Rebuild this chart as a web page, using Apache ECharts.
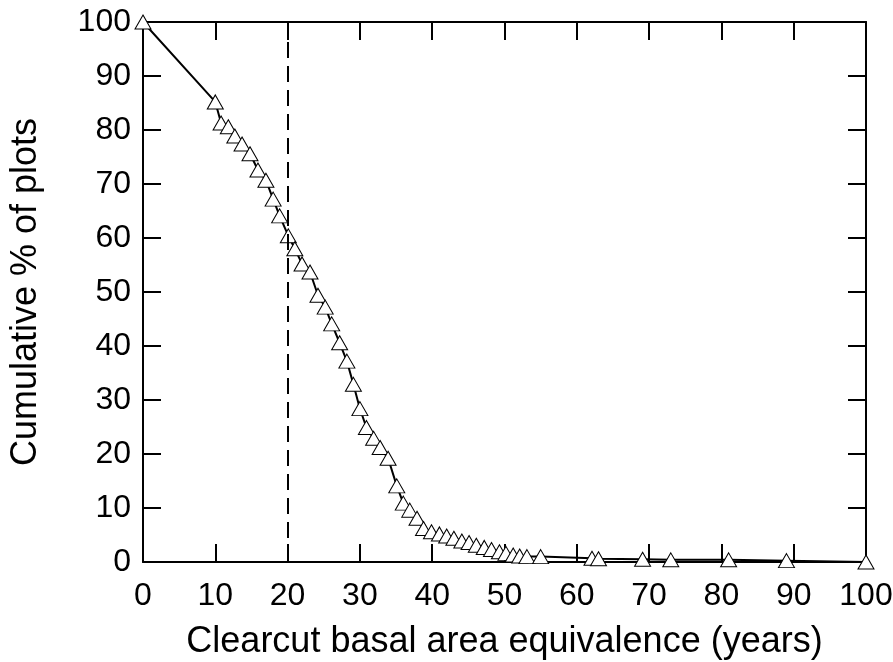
<!DOCTYPE html>
<html><head><meta charset="utf-8">
<script src="https://cdn.jsdelivr.net/npm/echarts@6/dist/echarts.min.js"></script>
<style>html,body{margin:0;padding:0;background:#fff}#c{width:893px;height:662px}</style>
</head><body><div id="c"></div>
<script>
const xValues = [0,10,10.8,11.8,12.7,13.7,14.8,15.9,17,18,18.9,20.1,21,22,23.1,24.2,25.2,26.1,27.2,28.2,29.1,30,30.9,31.9,32.8,33.9,35.1,36,36.9,37.9,38.8,39.9,41,42,43,44.1,45.1,46.1,47.2,48.2,49.3,50.2,51.2,52.1,53.1,55,62.1,63,69.1,73,81,89,100];
const yValues = [100,85.2,81.3,80.6,78.9,77.4,75.6,72.6,70.7,67.2,64.1,60.4,58,55.2,53.7,49.4,47.2,44.1,40.6,37.2,32.9,28.4,24.9,22.9,21.2,19.2,14.1,10.9,9.6,8.1,6.2,5.6,5.2,4.8,4.4,3.9,3.6,3.1,2.7,2.3,1.9,1.6,1.3,1.1,1.0,1.0,0.7,0.6,0.5,0.4,0.4,0.25,0];
const xTicks = [0,10,20,30,40,50,60,70,80,90,100];
const yTicks = [0,10,20,30,40,50,60,70,80,90,100];
const cutoffYear = 20;
const xTitle = 'Clearcut basal area equivalence (years)';
const yTitle = 'Cumulative % of plots';

const font = 'Liberation Sans, Arial, sans-serif';
const chart = echarts.init(document.getElementById('c'), null, {renderer:'canvas'});
const axisCommon = {
  min: 0, max: 100, interval: 10,
  axisLine: {show: true, onZero: false, lineStyle: {color: '#000', width: 2}},
  axisTick: {show: true, inside: true, length: 18, lineStyle: {color: '#000', width: 2}},
  splitLine: {show: false}
};
chart.setOption({
  animation: false,
  grid: {left: 143, right: 27, top: 22, bottom: 100, containLabel: false, outerBoundsMode: 'none'},
  xAxis: [
    Object.assign({}, axisCommon, {type: 'value', position: 'bottom',
      name: xTitle, nameLocation: 'middle', nameGap: 62,
      nameTextStyle: {fontFamily: font, fontSize: 36, color: '#000'},
      axisLabel: {fontFamily: font, fontSize: 32, color: '#000', margin: 18,
        formatter: v => xTicks.includes(v) ? String(v) : ''}}),
    Object.assign({}, axisCommon, {type: 'value', position: 'top', axisLabel: {show: false}})
  ],
  yAxis: [
    Object.assign({}, axisCommon, {type: 'value', position: 'left',
      name: yTitle, nameLocation: 'middle', nameGap: 99, nameRotate: 90,
      nameTextStyle: {fontFamily: font, fontSize: 36, color: '#000'},
      axisLabel: {fontFamily: font, fontSize: 32, color: '#000', margin: 12,
        formatter: v => yTicks.includes(v) ? String(v) : ''}}),
    Object.assign({}, axisCommon, {type: 'value', position: 'right', axisLabel: {show: false}})
  ],
  series: [{
    type: 'line',
    data: xValues.map((x, i) => [x, yValues[i]]),
    symbol: 'triangle', symbolSize: [16, 14],
    itemStyle: {color: '#fff', borderColor: '#000', borderWidth: 1},
    lineStyle: {color: '#000', width: 2},
    z: 3,
    markLine: {
      silent: true, symbol: 'none', label: {show: false},
      lineStyle: {color: '#000', width: 2, type: [16, 8]},
      data: [{xAxis: cutoffYear}]
    }
  }]
});
</script></body></html>
